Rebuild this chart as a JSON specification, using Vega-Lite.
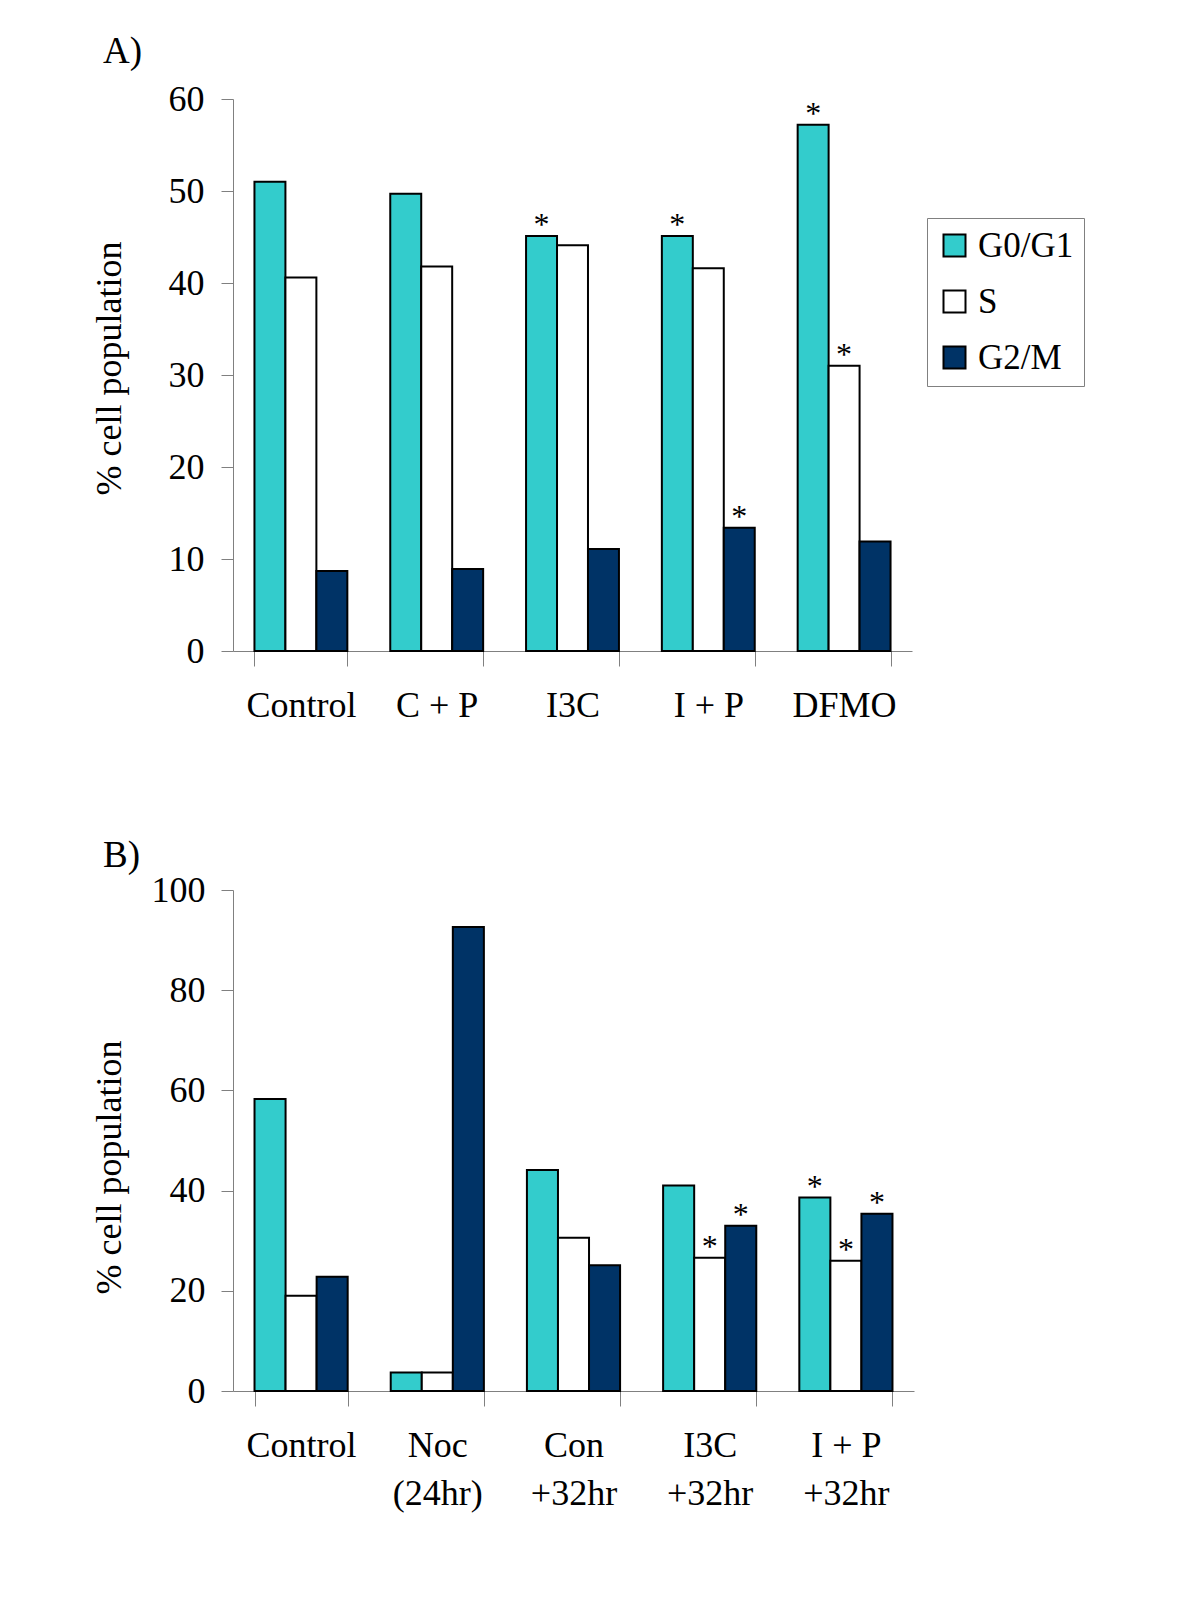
{
  "$schema": "https://vega.github.io/schema/vega-lite/v6.json",
  "background": "white",
  "padding": {"left": 90, "top": 33, "right": 10, "bottom": 10},
  "spacing": 114,
  "config": {
    "font": "Liberation Serif",
    "view": {"stroke": null},
    "axis": {
      "labelFont": "Liberation Serif",
      "titleFont": "Liberation Serif",
      "labelFontSize": 36,
      "labelColor": "black",
      "titleColor": "black",
      "titleFontWeight": "normal",
      "titleFontSize": 36,
      "domainColor": "#808080",
      "tickColor": "#808080",
      "domainWidth": 1,
      "tickWidth": 1,
      "grid": false
    },
    "title": {"font": "Liberation Serif", "fontSize": 37, "fontWeight": "normal", "anchor": "start", "frame": "group", "color": "black"},
    "legend": {"labelFont": "Liberation Serif"}
  },
  "datasets": {
    "a": [
      {"group": "Control", "phase": "G0/G1", "value": 51.0, "sig": ""},
      {"group": "Control", "phase": "S", "value": 40.6, "sig": ""},
      {"group": "Control", "phase": "G2/M", "value": 8.7, "sig": ""},
      {"group": "C + P", "phase": "G0/G1", "value": 49.7, "sig": ""},
      {"group": "C + P", "phase": "S", "value": 41.8, "sig": ""},
      {"group": "C + P", "phase": "G2/M", "value": 8.9, "sig": ""},
      {"group": "I3C", "phase": "G0/G1", "value": 45.1, "sig": "*"},
      {"group": "I3C", "phase": "S", "value": 44.1, "sig": ""},
      {"group": "I3C", "phase": "G2/M", "value": 11.1, "sig": ""},
      {"group": "I + P", "phase": "G0/G1", "value": 45.1, "sig": "*"},
      {"group": "I + P", "phase": "S", "value": 41.6, "sig": ""},
      {"group": "I + P", "phase": "G2/M", "value": 13.4, "sig": "*"},
      {"group": "DFMO", "phase": "G0/G1", "value": 57.2, "sig": "*"},
      {"group": "DFMO", "phase": "S", "value": 31.0, "sig": "*"},
      {"group": "DFMO", "phase": "G2/M", "value": 11.9, "sig": ""}
    ],
    "b": [
      {"group": "Control", "phase": "G0/G1", "value": 58.3, "sig": ""},
      {"group": "Control", "phase": "S", "value": 19.0, "sig": ""},
      {"group": "Control", "phase": "G2/M", "value": 22.8, "sig": ""},
      {"group": "Noc (24hr)", "phase": "G0/G1", "value": 3.7, "sig": ""},
      {"group": "Noc (24hr)", "phase": "S", "value": 3.7, "sig": ""},
      {"group": "Noc (24hr)", "phase": "G2/M", "value": 92.6, "sig": ""},
      {"group": "Con +32hr", "phase": "G0/G1", "value": 44.1, "sig": ""},
      {"group": "Con +32hr", "phase": "S", "value": 30.6, "sig": ""},
      {"group": "Con +32hr", "phase": "G2/M", "value": 25.1, "sig": ""},
      {"group": "I3C +32hr", "phase": "G0/G1", "value": 41.0, "sig": ""},
      {"group": "I3C +32hr", "phase": "S", "value": 26.6, "sig": "*"},
      {"group": "I3C +32hr", "phase": "G2/M", "value": 33.0, "sig": "*"},
      {"group": "I + P +32hr", "phase": "G0/G1", "value": 38.6, "sig": "*"},
      {"group": "I + P +32hr", "phase": "S", "value": 26.0, "sig": "*"},
      {"group": "I + P +32hr", "phase": "G2/M", "value": 35.4, "sig": "*"}
    ]
  },
  "resolve": {
    "scale": {"x": "independent", "y": "independent", "color": "independent", "xOffset": "independent"},
    "legend": {"color": "independent"}
  },
  "vconcat": [
    {
      "title": {"text": "A)", "dx": -130, "offset": 10},
      "width": 679,
      "height": 552,
      "data": {"name": "a"},
      "encoding": {
        "x": {
          "field": "group", "type": "nominal", "sort": null,
          "scale": {"paddingInner": 0.316, "paddingOuter": 0.158},
          "axis": {"title": null, "labelAngle": 0, "tickBand": "extent", "tickSize": 15, "labelPadding": 22, "labelLimit": 0}
        },
        "xOffset": {"field": "phase", "type": "nominal", "sort": ["G0/G1", "S", "G2/M"], "scale": {"paddingInner": 0, "paddingOuter": 0}},
        "y": {
          "field": "value", "type": "quantitative",
          "scale": {"domain": [0, 60], "nice": false},
          "axis": {"title": "% cell population", "values": [0, 10, 20, 30, 40, 50, 60], "tickSize": 12, "labelPadding": 17, "titleX": -124, "titleY": 269, "titleAngle": -90, "titleBaseline": "middle", "titleAlign": "center"}
        }
      },
      "layer": [
        {
          "mark": {"type": "bar", "stroke": "black", "strokeWidth": 2},
          "encoding": {
            "color": {
              "field": "phase", "type": "nominal",
              "scale": {"domain": ["G0/G1", "S", "G2/M"], "range": ["#33CCCC", "#FFFFFF", "#003366"]},
              "legend": {"title": null, "orient": "none", "legendX": 694, "legendY": 119, "direction": "vertical", "fillColor": "white", "strokeColor": "#808080", "padding": 10, "symbolType": "square", "symbolSize": 484, "symbolStrokeColor": "black", "symbolStrokeWidth": 2, "labelFontSize": 35, "labelColor": "black", "rowPadding": 20, "labelOffset": 6}
            }
          }
        },
        {
          "mark": {"type": "text", "fontSize": 32, "baseline": "alphabetic", "dy": -1, "font": "Liberation Serif", "color": "black"},
          "encoding": {"text": {"field": "sig"}}
        }
      ]
    },
    {
      "title": {"text": "B)", "dx": -130, "offset": -3},
      "width": 681,
      "height": 501,
      "data": {"name": "b"},
      "encoding": {
        "x": {
          "field": "group", "type": "nominal", "sort": null,
          "scale": {"paddingInner": 0.316, "paddingOuter": 0.158},
          "axis": {"title": null, "labelAngle": 0, "tickBand": "extent", "tickSize": 15, "labelPadding": 22, "labelLimit": 0, "labelLineHeight": 48,
            "labelExpr": "lastindexof(datum.label, ' ') > 0 ? [substring(datum.label, 0, lastindexof(datum.label, ' ')), substring(datum.label, lastindexof(datum.label, ' ') + 1)] : datum.label"}
        },
        "xOffset": {"field": "phase", "type": "nominal", "sort": ["G0/G1", "S", "G2/M"], "scale": {"paddingInner": 0, "paddingOuter": 0}},
        "y": {
          "field": "value", "type": "quantitative",
          "scale": {"domain": [0, 100], "nice": false},
          "axis": {"title": "% cell population", "values": [0, 20, 40, 60, 80, 100], "tickSize": 12, "labelPadding": 16, "titleX": -124, "titleY": 277, "titleAngle": -90, "titleBaseline": "middle", "titleAlign": "center"}
        }
      },
      "layer": [
        {
          "mark": {"type": "bar", "stroke": "black", "strokeWidth": 2},
          "encoding": {
            "color": {
              "field": "phase", "type": "nominal",
              "scale": {"domain": ["G0/G1", "S", "G2/M"], "range": ["#33CCCC", "#FFFFFF", "#003366"]},
              "legend": null
            }
          }
        },
        {
          "mark": {"type": "text", "fontSize": 32, "baseline": "alphabetic", "dy": -1, "font": "Liberation Serif", "color": "black"},
          "encoding": {"text": {"field": "sig"}}
        }
      ]
    }
  ]
}
